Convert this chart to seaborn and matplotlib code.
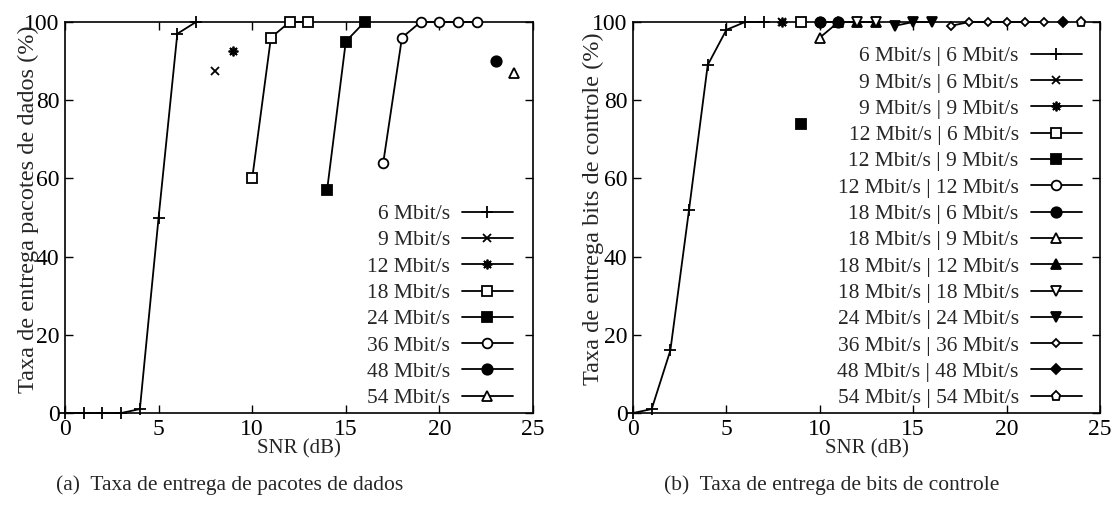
import matplotlib
matplotlib.use("Agg")
import matplotlib.pyplot as plt
import seaborn as sns
import pandas as pd

# ---------------- data: panel (a) ----------------
a_labels = ["6 Mbit/s", "9 Mbit/s", "12 Mbit/s", "18 Mbit/s",
            "24 Mbit/s", "36 Mbit/s", "48 Mbit/s", "54 Mbit/s"]
a_x_6 = [0, 1, 2, 3, 4, 5, 6, 7]
a_y_6 = [0, 0, 0, 0, 1, 50, 97, 100]
a_x_9 = [8]
a_y_9 = [87.5]
a_x_12 = [9]
a_y_12 = [92.5]
a_x_18 = [10, 11, 12, 13]
a_y_18 = [60, 96, 100, 100]
a_x_24 = [14, 15, 16]
a_y_24 = [57, 95, 100]
a_x_36 = [17, 18, 19, 20, 21, 22]
a_y_36 = [64, 96, 100, 100, 100, 100]
a_x_48 = [23]
a_y_48 = [90]
a_x_54 = [24]
a_y_54 = [87]

# ---------------- data: panel (b) ----------------
b_labels = ["6 Mbit/s | 6 Mbit/s", "9 Mbit/s | 6 Mbit/s", "9 Mbit/s | 9 Mbit/s",
            "12 Mbit/s | 6 Mbit/s", "12 Mbit/s | 9 Mbit/s", "12 Mbit/s | 12 Mbit/s",
            "18 Mbit/s | 6 Mbit/s", "18 Mbit/s | 9 Mbit/s", "18 Mbit/s | 12 Mbit/s",
            "18 Mbit/s | 18 Mbit/s", "24 Mbit/s | 24 Mbit/s", "36 Mbit/s | 36 Mbit/s",
            "48 Mbit/s | 48 Mbit/s", "54 Mbit/s | 54 Mbit/s"]
b_x_6_6 = [0, 1, 2, 3, 4, 5, 6, 7]
b_y_6_6 = [0, 1, 16, 52, 89, 98, 100, 100]
b_x_9_6 = [8]
b_y_9_6 = [100]
b_x_9_9 = [8]
b_y_9_9 = [100]
b_x_12_6 = [9]
b_y_12_6 = [100]
b_x_12_9 = [9]
b_y_12_9 = [74]
b_x_12_12 = [10]
b_y_12_12 = [100]
b_x_18_6 = [10, 11]
b_y_18_6 = [100, 100]
b_x_18_9 = [10, 11]
b_y_18_9 = [96, 100]
b_x_18_12 = [11, 12, 13]
b_y_18_12 = [100, 100, 100]
b_x_18_18 = [12, 13]
b_y_18_18 = [100, 100]
b_x_24_24 = [14, 15, 16]
b_y_24_24 = [99, 100, 100]
b_x_36_36 = [17, 18, 19, 20, 21, 22]
b_y_36_36 = [99, 100, 100, 100, 100, 100]
b_x_48_48 = [23]
b_y_48_48 = [100]
b_x_54_54 = [24]
b_y_54_54 = [100]

a_series = [(a_x_6, a_y_6), (a_x_9, a_y_9), (a_x_12, a_y_12), (a_x_18, a_y_18),
            (a_x_24, a_y_24), (a_x_36, a_y_36), (a_x_48, a_y_48), (a_x_54, a_y_54)]
b_series = [(b_x_6_6, b_y_6_6), (b_x_9_6, b_y_9_6), (b_x_9_9, b_y_9_9),
            (b_x_12_6, b_y_12_6), (b_x_12_9, b_y_12_9), (b_x_12_12, b_y_12_12),
            (b_x_18_6, b_y_18_6), (b_x_18_9, b_y_18_9), (b_x_18_12, b_y_18_12),
            (b_x_18_18, b_y_18_18), (b_x_24_24, b_y_24_24), (b_x_36_36, b_y_36_36),
            (b_x_48_48, b_y_48_48), (b_x_54_54, b_y_54_54)]

# marker styles (gnuplot-like): (marker, filled, size)
STAR = (8, 2, 0)
a_styles = [("+", True, 8), ("x", True, 6), (STAR, True, 7), ("s", False, 6.5),
            ("s", True, 7.5), ("o", False, 7), ("o", True, 7.5), ("^", False, 7)]
b_styles = [("+", True, 8), ("x", True, 6), (STAR, True, 7), ("s", False, 6.5),
            ("s", True, 7.5), ("o", False, 7), ("o", True, 7.5), ("^", False, 7),
            ("^", True, 7.5), ("v", False, 7), ("v", True, 7.5), ("D", False, 4.5),
            ("D", True, 5), ("p", False, 6.5)]

sns.set_style("ticks")
plt.rcParams["font.family"] = ["Liberation Serif", "DejaVu Serif"]
FS_LEG = 15.5
FS_TICK = 17
FS_YLAB = 17.5
FS_XLAB = 15
FS_CAP = 15.5

fig = plt.figure(figsize=(11.18, 5.05), dpi=100)
axA = fig.add_axes([65 / 1118, 92 / 505, 468 / 1118, 391 / 505])
axB = fig.add_axes([633 / 1118, 92 / 505, 467 / 1118, 391 / 505])


def draw(ax, series, labels, styles, leg_x):
    for (xs, ys), lab, (m, filled, ms) in zip(series, labels, styles):
        df = pd.DataFrame({"x": xs, "y": ys})
        sns.lineplot(data=df, x="x", y="y", ax=ax, color="black", lw=1.3,
                     marker=m, markersize=ms, markeredgewidth=1.3,
                     markerfacecolor=("black" if filled else "white"),
                     markeredgecolor="black", label=lab, clip_on=False,
                     zorder=3)
    ax.set_xlim(0, 25)
    ax.set_ylim(0, 100)
    ax.set_xticks([0, 5, 10, 15, 20, 25])
    ax.set_yticks([0, 20, 40, 60, 80, 100])
    ax.tick_params(direction="in", top=True, right=True, length=6, width=1,
                   labelsize=FS_TICK, colors="black")
    ax.tick_params(axis="x", pad=4)
    ax.tick_params(axis="y", pad=4)
    for s in ax.spines.values():
        s.set_linewidth(1.2)
        s.set_color("black")
    ax.set_xlabel("SNR (dB)", fontsize=FS_XLAB)
    ax.xaxis.set_label_coords(0.5, -0.066)
    ax.legend(loc="lower right", bbox_to_anchor=(leg_x, 0.012), frameon=False,
              fontsize=FS_LEG, markerfirst=False, handlelength=2.37,
              handletextpad=0.56, labelspacing=0.29, borderaxespad=0,
              borderpad=0, numpoints=1)


draw(axA, a_series, a_labels, a_styles, 0.957)
draw(axB, b_series, b_labels, b_styles, 0.961)
axA.set_ylabel("Taxa de entrega pacotes de dados (%)", fontsize=FS_YLAB)
axB.set_ylabel("Taxa de entrega bits de controle (%)", fontsize=FS_YLAB)
axA.yaxis.set_label_coords(-0.056, 0.522)
axB.yaxis.set_label_coords(-0.062, 0.522)

fig.text(230 / 1118, 1 - 485 / 505, "(a)  Taxa de entrega de pacotes de dados",
         ha="center", va="center", fontsize=FS_CAP)
fig.text(832 / 1118, 1 - 485 / 505, "(b)  Taxa de entrega de bits de controle",
         ha="center", va="center", fontsize=FS_CAP)

fig.savefig("out.png", dpi=100)
